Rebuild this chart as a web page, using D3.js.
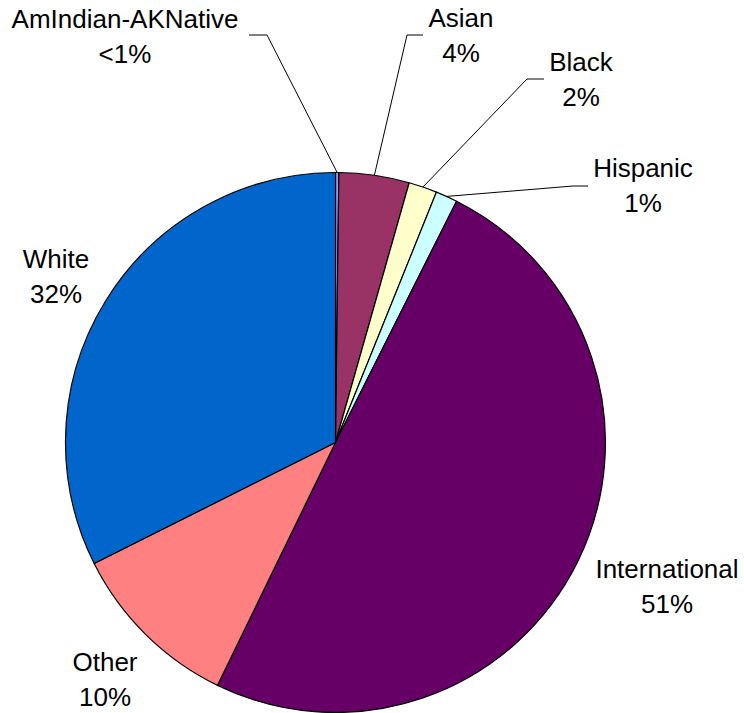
<!DOCTYPE html>
<html>
<head>
<meta charset="utf-8">
<script src="https://cdn.jsdelivr.net/npm/d3@7"></script>
<style>
  body { margin: 0; background: #fff; }
  text { font-family: "Liberation Sans", Arial, sans-serif; font-size: 26px; fill: #000; }
</style>
</head>
<body>
<div id="chart"></div>
<script>
// Data (share of enrollment, %)
const categories = ["AmIndian-AKNative", "Asian", "Black", "Hispanic", "International", "Other", "White"];
const values = [0.2, 4.2, 1.7, 1.3, 49.8, 10.4, 32.4];
const pctLabels = ["<1%", "4%", "2%", "1%", "51%", "10%", "32%"];
const colors = ["#9999FF", "#993366", "#FFFFCC", "#CCFFFF", "#660066", "#FF8080", "#0066CC"];

// Layout
const width = 744, height = 713;
const cx = 335.5, cy = 442.5, radius = 270;
const lineGap = 35;

// label anchor: centre x, first baseline y
const labelAnchor = [[125, 28], [461, 27], [581, 71], [643, 177], [667, 578], [105, 671], [56, 268]];
// leader elbow for the small slices: [elbow x, elbow y, tick end x]
const leaderElbow = [[267, 35, 249], [407, 35, 423], [527, 79, 544], [573, 186, 588], null, null, null];

const svg = d3.select("#chart").append("svg")
    .attr("width", width)
    .attr("height", height);

const pie = d3.pie().sort(null).value(d => d);
const arcs = pie(values);

const arc = d3.arc().innerRadius(0).outerRadius(radius);

const g = svg.append("g").attr("transform", `translate(${cx},${cy})`);

g.selectAll("path.slice")
    .data(arcs)
    .enter().append("path")
    .attr("class", "slice")
    .attr("d", arc)
    .style("fill", (d, i) => colors[i])
    .style("stroke", "#000")
    .style("stroke-width", 1.2)
    .style("stroke-linejoin", "round");

// leader lines from the rim of the small slices
arcs.forEach((d, i) => {
    const e = leaderElbow[i];
    if (!e) return;
    const a = (d.startAngle + d.endAngle) / 2;
    const x0 = cx + radius * Math.sin(a);
    const y0 = cy - radius * Math.cos(a);
    svg.append("polyline")
        .attr("points", `${x0},${y0} ${e[0]},${e[1]} ${e[2]},${e[1]}`)
        .style("fill", "none")
        .style("stroke", "#000")
        .style("stroke-width", 1);
});

// two-line labels
const labels = svg.selectAll("text.lbl")
    .data(categories)
    .enter().append("text")
    .attr("class", "lbl")
    .attr("text-anchor", "middle");

labels.append("tspan")
    .attr("x", (d, i) => labelAnchor[i][0])
    .attr("y", (d, i) => labelAnchor[i][1])
    .text(d => d);

labels.append("tspan")
    .attr("x", (d, i) => labelAnchor[i][0])
    .attr("y", (d, i) => labelAnchor[i][1] + lineGap)
    .text((d, i) => pctLabels[i]);
</script>
</body>
</html>
